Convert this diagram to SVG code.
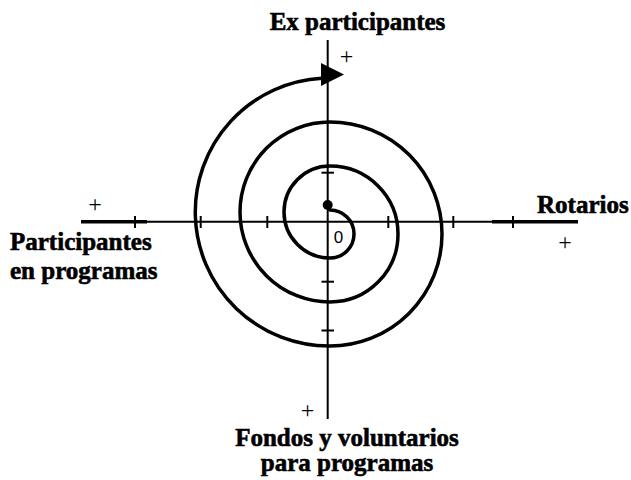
<svg xmlns="http://www.w3.org/2000/svg" width="631" height="480" viewBox="0 0 631 480">
<style>
.lbl{font-family:"Liberation Serif","Times New Roman","DejaVu Serif",serif;font-weight:bold;font-size:25px;fill:#000;stroke:#000;stroke-width:0.6}
.axis{stroke:#000;stroke-width:2;fill:none}
.thick{stroke:#000;stroke-width:3.5;fill:none}
.tick{stroke:#000;stroke-width:2}
.spiral{stroke:#000;stroke-width:3.5;fill:none;stroke-linejoin:round}
</style>
<rect width="631" height="480" fill="#fff"/>
<g id="connectors">
  <line class="axis" x1="327.7" y1="40" x2="327.7" y2="419"/>
  <line class="axis" x1="81" y1="221.7" x2="578" y2="221.7" stroke-width="1.6"/>
  <line class="thick" x1="81" y1="221.7" x2="147" y2="221.7"/>
  <line class="thick" x1="492" y1="221.7" x2="578" y2="221.7"/>
  <g class="tick">
    <line x1="135" y1="216" x2="135" y2="228"/>
    <line x1="200.7" y1="216" x2="200.7" y2="228"/>
    <line x1="267.3" y1="216" x2="267.3" y2="228"/>
    <line x1="388.3" y1="216" x2="388.3" y2="228"/>
    <line x1="453.3" y1="216" x2="453.3" y2="228"/>
    <line x1="513" y1="216" x2="513" y2="228"/>
    <line x1="321.5" y1="172.7" x2="334" y2="172.7"/>
    <line x1="321.5" y1="281.7" x2="334" y2="281.7"/>
    <line x1="321.5" y1="330.5" x2="334" y2="330.5"/>
  </g>
  <path class="spiral" d="M327.7 205 L330 210 A24 24 0 0 1 330 258 A46 46 0 0 1 330 166 A68 68 0 0 1 330 302 A90 90 0 0 1 330 122 A112 112 0 0 1 330 346 A134 134 0 0 1 322 78.2"/>
  <polygon points="321,63 344,74.5 321,86" fill="#000"/>
  <circle cx="327.7" cy="205" r="5" fill="#000"/>
</g>
<g font-family="Liberation Serif, Times New Roman, serif" font-size="24" text-anchor="middle" fill="#000">
<g id="node-top">
  <text class="lbl" x="357.5" y="30">Ex participantes</text>
  <text x="346.5" y="63.5">+</text>
</g>
<g id="node-right">
  <text class="lbl" x="537" y="213" text-anchor="start">Rotarios</text>
  <text x="565" y="249.5">+</text>
</g>
<g id="node-left">
  <text class="lbl" x="10" y="250" text-anchor="start">Participantes</text>
  <text class="lbl" x="10" y="279" text-anchor="start">en programas</text>
  <text x="95" y="212">+</text>
</g>
<g id="node-bottom">
  <text class="lbl" x="347" y="446">Fondos y voluntarios</text>
  <text class="lbl" x="347" y="471">para programas</text>
  <text x="307.5" y="418">+</text>
</g>
<g id="node-origin">
  <text x="338.5" y="243" font-family="Liberation Sans, Arial, sans-serif" font-size="17">0</text>
</g>
</g>
</svg>
